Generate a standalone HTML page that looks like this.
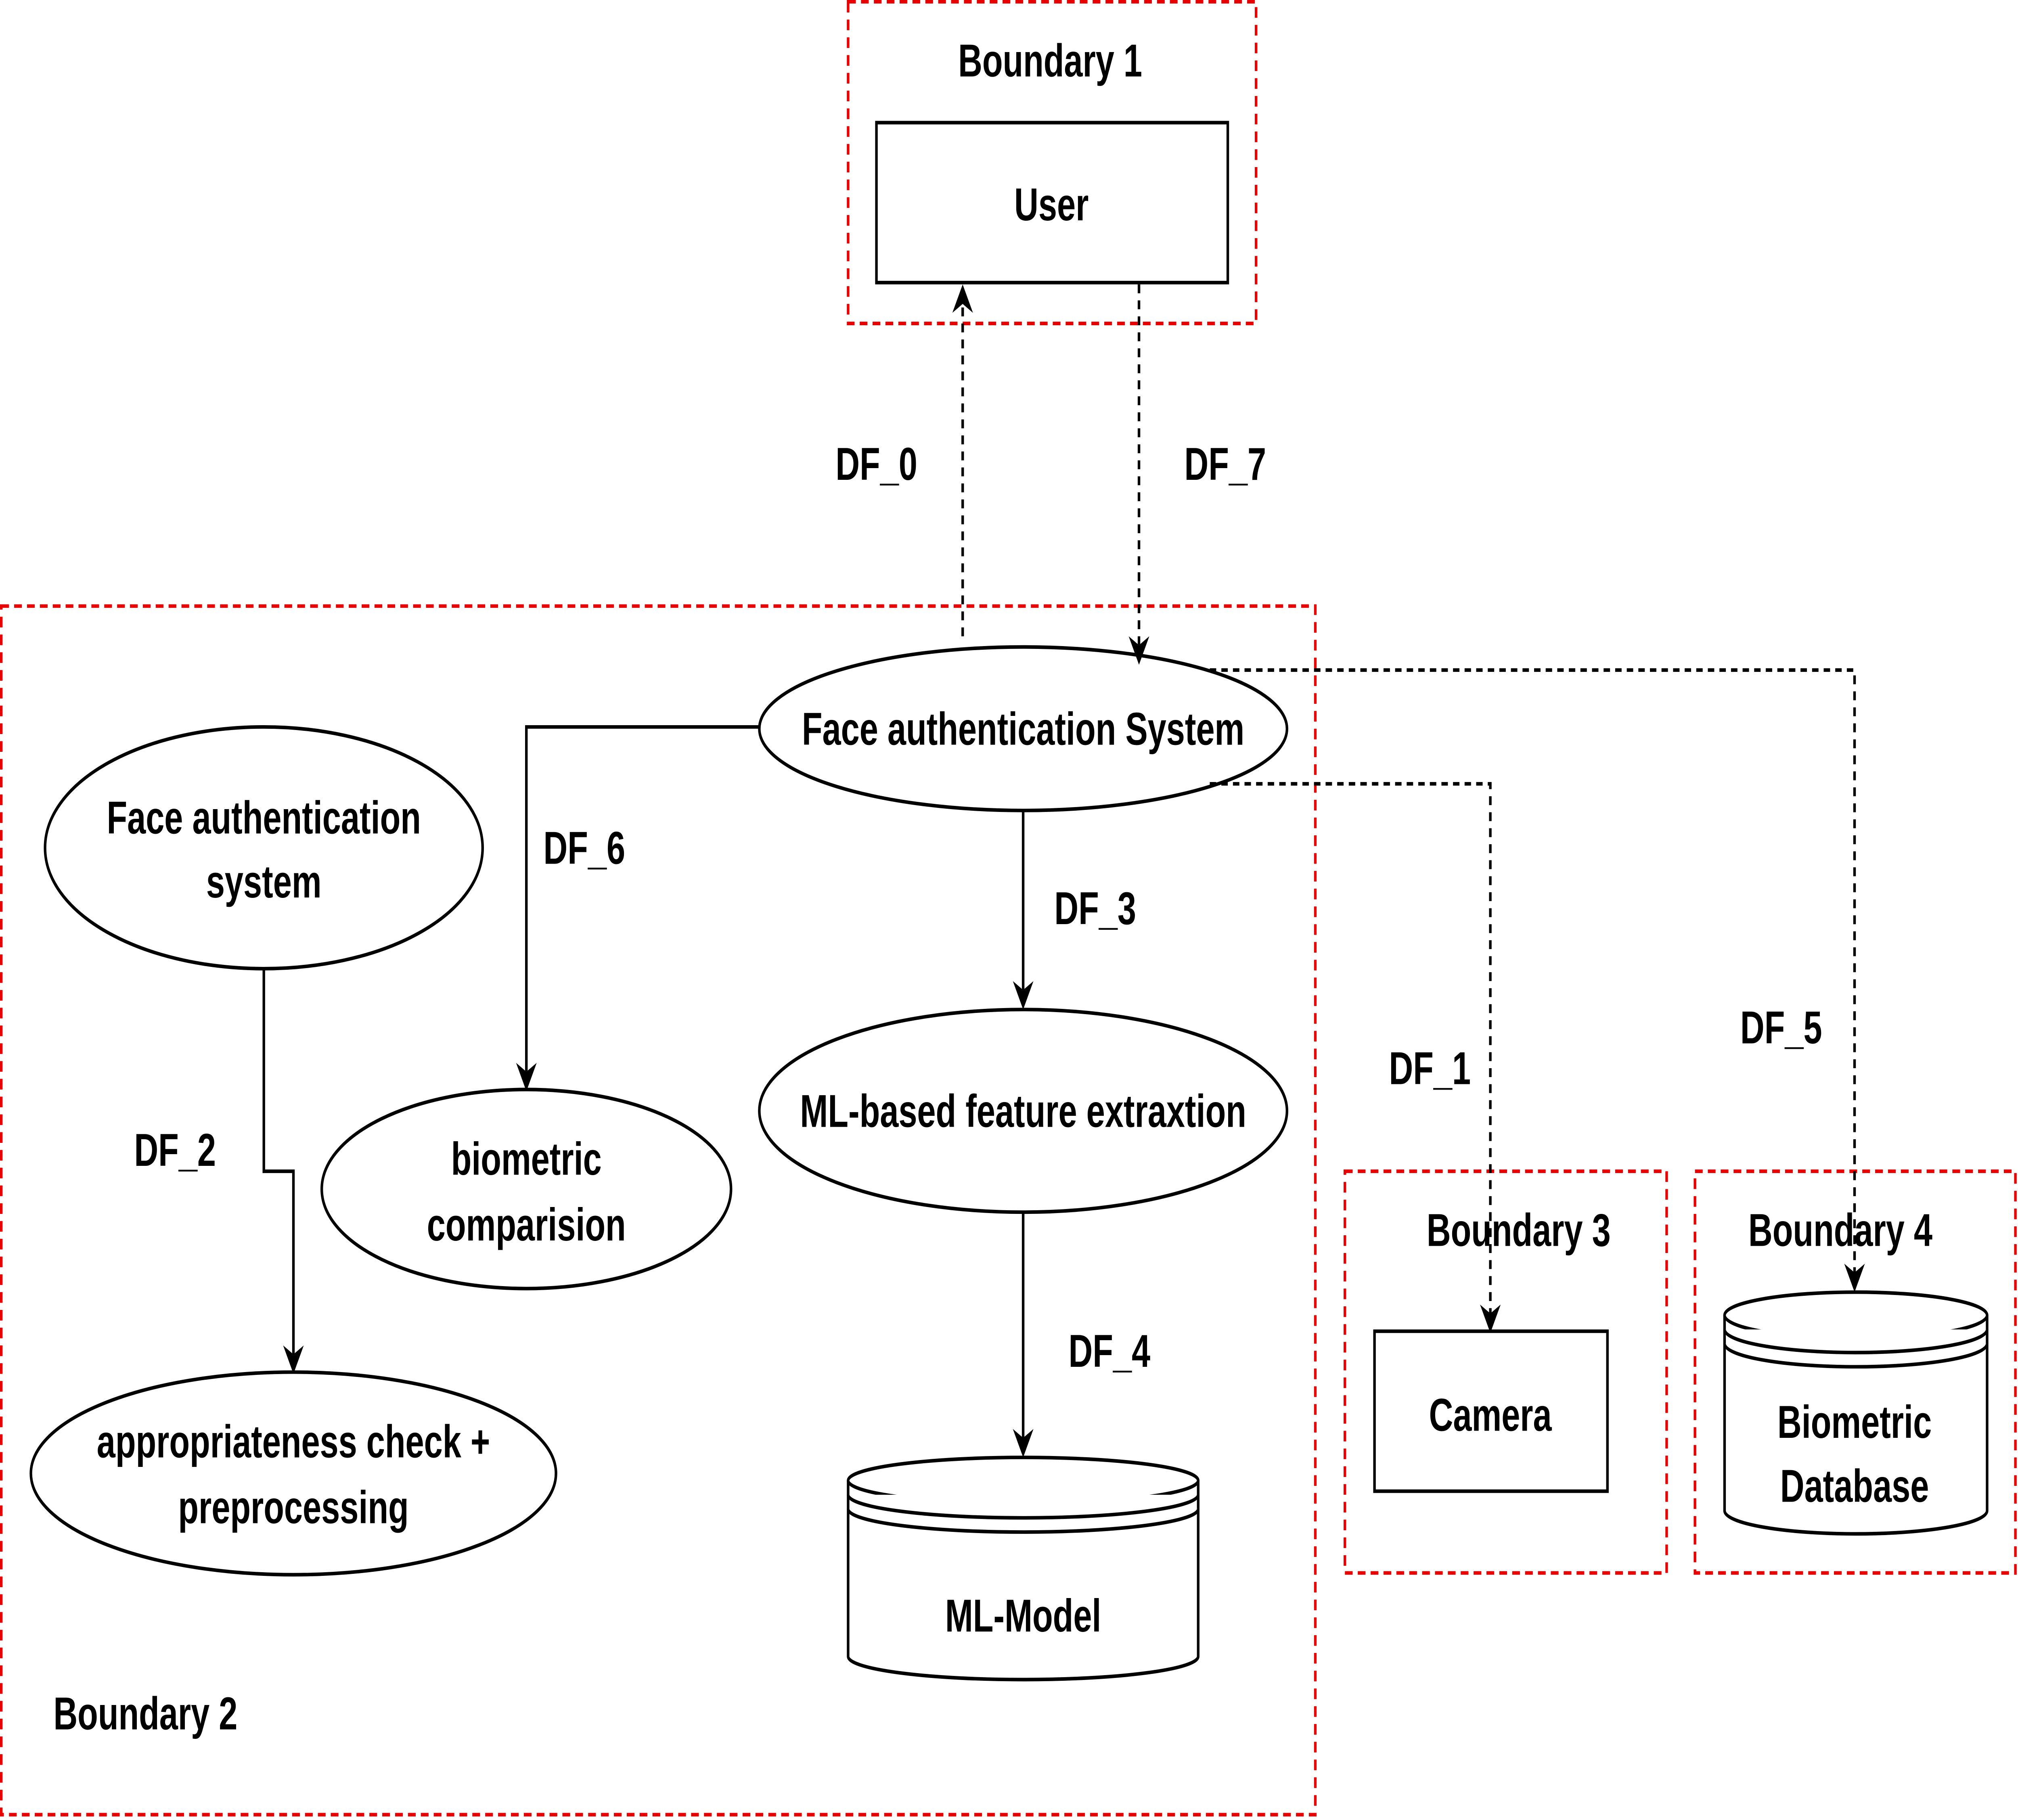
<!DOCTYPE html>
<html><head><meta charset="utf-8"><style>
html,body{margin:0;padding:0;background:#fff;width:100%;height:100%;overflow:hidden}
svg{display:block;position:fixed;left:0;top:0;width:100vw;height:100vh}
</style></head>
<body>
<svg viewBox="0 0 1568 1024" preserveAspectRatio="none" xmlns="http://www.w3.org/2000/svg" font-family="Liberation Sans, sans-serif" font-weight="bold" font-size="26">
<defs>
<marker id="b" markerWidth="16" markerHeight="16" refX="14" refY="8" orient="auto" markerUnits="userSpaceOnUse" viewBox="0 0 16 16"><path d="M0,0 L16,8 L0,16 L5,8 z" fill="#000"/></marker>
</defs>
<g fill="none" stroke="#e60000" stroke-width="2" stroke-dasharray="6,4">
<rect x="659" y="1" width="317" height="181"/>
<rect x="1" y="341" width="1021" height="680"/>
<rect x="1045" y="659" width="250" height="226"/>
<rect x="1317" y="659" width="249" height="226"/>
</g>
<g fill="#fff" stroke="#000" stroke-width="2">
<rect x="681" y="69" width="273" height="90"/>
<rect x="1068" y="749" width="181" height="90"/>
<ellipse cx="795" cy="410" rx="205" ry="46"/>
<ellipse cx="205" cy="477" rx="170" ry="68"/>
<ellipse cx="409" cy="669" rx="159" ry="56"/>
<ellipse cx="795" cy="625" rx="205" ry="57"/>
<ellipse cx="228" cy="829" rx="204" ry="57"/>
<path d="M659,833 L659,932 A136,13 0 0 0 931,932 L931,833"/>
<ellipse cx="795" cy="833" rx="136" ry="13"/>
<path d="M659,841 A136,13 0 0 0 931,841 M659,849 A136,13 0 0 0 931,849"/>
<path d="M1340,740 L1340,850 A102,13 0 0 0 1544,850 L1544,740"/>
<ellipse cx="1442" cy="740" rx="102" ry="13"/>
<path d="M1340,748 A102,13 0 0 0 1544,748 M1340,756 A102,13 0 0 0 1544,756"/>
</g>
<g fill="none" stroke="#000" stroke-width="2">
<path d="M748,358 L748,162" stroke-dasharray="5,4" marker-end="url(#b)"/>
<path d="M885,160 L885,372" stroke-dasharray="5,4" marker-end="url(#b)"/>
<path d="M940,377 L1441,377 L1441,725" stroke-dasharray="5,4" marker-end="url(#b)"/>
<path d="M940,441 L1158,441 L1158,748" stroke-dasharray="5,4" marker-end="url(#b)"/>
<path d="M590,409 L409,409 L409,612" marker-end="url(#b)"/>
<path d="M795,456 L795,566" marker-end="url(#b)"/>
<path d="M795,682 L795,818" marker-end="url(#b)"/>
<path d="M205,545 L205,659 L228,659 L228,771" marker-end="url(#b)"/>
</g>
<g fill="#000" text-anchor="middle">
<text x="816" y="43">Boundary 1</text>
<text x="817" y="124">User</text>
<text x="681" y="270">DF_0</text>
<text x="952" y="270">DF_7</text>
<text x="795" y="419">Face authentication System</text>
<text x="205" y="469">Face authentication</text>
<text x="205" y="505">system</text>
<text x="454" y="486">DF_6</text>
<text x="851" y="520">DF_3</text>
<text x="409" y="661">biometric</text>
<text x="409" y="698">comparision</text>
<text x="795" y="634">ML-based feature extraxtion</text>
<text x="136" y="656">DF_2</text>
<text x="228" y="820">appropriateness check +</text>
<text x="228" y="857">preprocessing</text>
<text x="862" y="769">DF_4</text>
<text x="795" y="918">ML-Model</text>
<text x="113" y="973">Boundary 2</text>
<text x="1111" y="610">DF_1</text>
<text x="1384" y="587">DF_5</text>
<text x="1180" y="701">Boundary 3</text>
<text x="1430" y="701">Boundary 4</text>
<text x="1158" y="805">Camera</text>
<text x="1441" y="809">Biometric</text>
<text x="1441" y="845">Database</text>
</g>
</svg>
</body></html>
